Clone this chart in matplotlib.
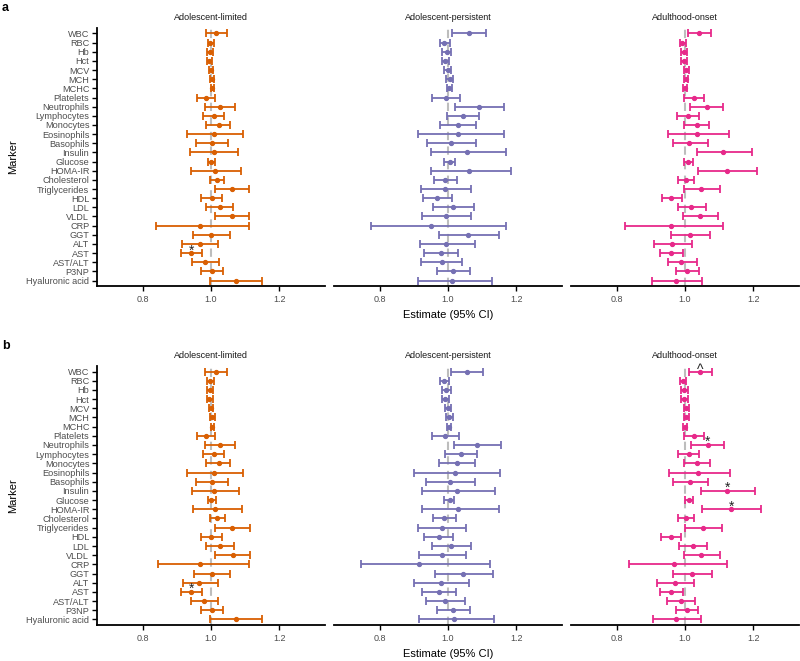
import matplotlib
matplotlib.use('Agg')
import matplotlib.pyplot as plt
import numpy as np

plt.rcParams['font.family'] = ['Liberation Sans', 'DejaVu Sans']

markers = ['WBC', 'RBC', 'Hb', 'Hct', 'MCV', 'MCH', 'MCHC', 'Platelets',
           'Neutrophils', 'Lymphocytes', 'Monocytes', 'Eosinophils', 'Basophils',
           'Insulin', 'Glucose', 'HOMA-IR', 'Cholesterol', 'Triglycerides', 'HDL',
           'LDL', 'VLDL', 'CRP', 'GGT', 'ALT', 'AST', 'AST/ALT', 'P3NP',
           'Hyaluronic acid']
groups = ['Adolescent-limited', 'Adolescent-persistent', 'Adulthood-onset']
colors = ['#D95F02', '#7570B3', '#E7298A']
xticks = [0.8, 1.0, 1.2]
xticklabels = ['0.8', '1.0', '1.2']
panel_letters = ['a', 'b']

# ---- Panel a ----
a_lim_est = [1.015, 0.997, 0.997, 0.995, 0.999, 1.003, 1.004, 0.986, 1.025, 1.008,
             1.023, 1.008, 1.002, 1.008, 1.000, 1.013, 1.018, 1.061, 1.003, 1.025,
             1.061, 0.967, 1.000, 0.967, 0.942, 0.981, 1.004, 1.073]
a_lim_lo = [0.984, 0.990, 0.989, 0.988, 0.994, 0.997, 1.000, 0.959, 0.981, 0.978,
            0.986, 0.929, 0.955, 0.939, 0.992, 0.942, 0.996, 1.012, 0.971, 0.986,
            1.012, 0.839, 0.946, 0.914, 0.911, 0.943, 0.972, 0.998]
a_lim_hi = [1.046, 1.008, 1.006, 1.004, 1.005, 1.010, 1.010, 1.012, 1.069, 1.038,
            1.057, 1.093, 1.050, 1.079, 1.013, 1.089, 1.038, 1.112, 1.033, 1.064,
            1.111, 1.110, 1.055, 1.020, 0.973, 1.022, 1.034, 1.150]

a_per_est = [1.061, 0.989, 0.996, 0.991, 0.999, 1.005, 1.003, 0.995, 1.090, 1.043,
             1.029, 1.029, 1.008, 1.055, 1.006, 1.060, 0.991, 0.992, 0.968, 1.014,
             0.994, 0.951, 1.059, 0.995, 0.979, 0.981, 1.014, 1.013]
a_per_lo = [1.013, 0.978, 0.983, 0.981, 0.989, 0.994, 0.997, 0.954, 1.021, 0.996,
            0.978, 0.911, 0.938, 0.950, 0.988, 0.950, 0.960, 0.922, 0.926, 0.956,
            0.925, 0.774, 0.975, 0.917, 0.931, 0.922, 0.969, 0.911]
a_per_hi = [1.110, 1.005, 1.010, 1.004, 1.008, 1.015, 1.011, 1.036, 1.163, 1.090,
            1.083, 1.163, 1.082, 1.171, 1.021, 1.183, 1.025, 1.066, 1.011, 1.075,
            1.068, 1.170, 1.148, 1.080, 1.029, 1.042, 1.064, 1.128]

a_ons_est = [1.042, 0.992, 0.997, 0.997, 1.003, 1.003, 1.000, 1.025, 1.063, 1.009,
             1.034, 1.035, 1.013, 1.112, 1.010, 1.122, 1.002, 1.048, 0.960, 1.019,
             1.043, 0.958, 1.014, 0.963, 0.960, 0.989, 1.007, 0.975]
a_ons_lo = [1.010, 0.984, 0.987, 0.989, 0.996, 0.996, 0.995, 0.996, 1.016, 0.977,
            0.997, 0.950, 0.964, 1.034, 0.998, 1.038, 0.979, 0.996, 0.932, 0.980,
            0.993, 0.825, 0.958, 0.910, 0.926, 0.949, 0.975, 0.904]
a_ons_hi = [1.077, 1.002, 1.007, 1.007, 1.011, 1.010, 1.005, 1.056, 1.112, 1.040,
            1.071, 1.128, 1.066, 1.197, 1.023, 1.210, 1.025, 1.103, 0.991, 1.061,
            1.096, 1.112, 1.074, 1.021, 0.993, 1.035, 1.040, 1.051]

# ---- Panel b ----
b_lim_est = [1.015, 0.996, 0.996, 0.995, 0.999, 1.003, 1.004, 0.986, 1.026, 1.009,
             1.023, 1.009, 1.002, 1.009, 1.000, 1.013, 1.019, 1.062, 1.001, 1.026,
             1.063, 0.969, 1.002, 0.966, 0.942, 0.980, 1.004, 1.073]
b_lim_lo = [0.983, 0.989, 0.988, 0.988, 0.994, 0.997, 1.000, 0.959, 0.982, 0.978,
            0.986, 0.929, 0.956, 0.943, 0.990, 0.946, 0.996, 1.013, 0.970, 0.986,
            1.013, 0.845, 0.949, 0.917, 0.911, 0.942, 0.972, 0.998]
b_lim_hi = [1.046, 1.008, 1.007, 1.005, 1.005, 1.011, 1.010, 1.013, 1.070, 1.039,
            1.057, 1.095, 1.051, 1.082, 1.014, 1.091, 1.040, 1.115, 1.032, 1.067,
            1.115, 1.112, 1.057, 1.021, 0.974, 1.021, 1.036, 1.150]

b_per_est = [1.055, 0.988, 0.995, 0.990, 0.999, 1.004, 1.003, 0.991, 1.085, 1.038,
             1.025, 1.020, 1.005, 1.025, 1.005, 1.030, 0.989, 0.981, 0.973, 1.009,
             0.983, 0.916, 1.044, 0.980, 0.973, 0.991, 1.016, 1.019]
b_per_lo = [1.008, 0.978, 0.983, 0.981, 0.990, 0.995, 0.997, 0.952, 1.017, 0.992,
            0.975, 0.902, 0.936, 0.925, 0.987, 0.925, 0.955, 0.913, 0.929, 0.952,
            0.916, 0.746, 0.963, 0.902, 0.925, 0.935, 0.968, 0.916]
b_per_hi = [1.103, 1.003, 1.010, 1.003, 1.009, 1.014, 1.010, 1.033, 1.156, 1.085,
            1.078, 1.152, 1.078, 1.136, 1.019, 1.148, 1.022, 1.054, 1.016, 1.068,
            1.054, 1.122, 1.132, 1.061, 1.022, 1.051, 1.063, 1.134]

b_ons_est = [1.045, 0.993, 0.998, 0.998, 1.004, 1.004, 1.000, 1.026, 1.066, 1.011,
             1.036, 1.038, 1.015, 1.123, 1.011, 1.135, 1.002, 1.052, 0.960, 1.022,
             1.048, 0.969, 1.021, 0.970, 0.960, 0.987, 1.006, 0.974]
b_ons_lo = [1.012, 0.984, 0.987, 0.989, 0.997, 0.996, 0.995, 0.996, 1.018, 0.979,
            0.998, 0.952, 0.965, 1.046, 0.999, 1.050, 0.979, 0.999, 0.929, 0.982,
            0.998, 0.835, 0.964, 0.917, 0.928, 0.946, 0.975, 0.905]
b_ons_hi = [1.079, 1.004, 1.008, 1.008, 1.011, 1.011, 1.006, 1.056, 1.115, 1.042,
            1.073, 1.131, 1.067, 1.205, 1.023, 1.222, 1.026, 1.107, 0.989, 1.064,
            1.102, 1.122, 1.080, 1.026, 0.995, 1.030, 1.038, 1.048]

# significance annotations: (row, panel, marker, symbol)
annotations = [(0, 0, 'AST', '*'),
               (1, 0, 'AST', '*'),
               (1, 2, 'WBC', '^'),
               (1, 2, 'Neutrophils', '*'),
               (1, 2, 'Insulin', '*'),
               (1, 2, 'HOMA-IR', '*')]

data = [
    [(a_lim_est, a_lim_lo, a_lim_hi), (a_per_est, a_per_lo, a_per_hi), (a_ons_est, a_ons_lo, a_ons_hi)],
    [(b_lim_est, b_lim_lo, b_lim_hi), (b_per_est, b_per_lo, b_per_hi), (b_ons_est, b_ons_lo, b_ons_hi)],
]

W, H = 800, 661
fig = plt.figure(figsize=(W / 100, H / 100), dpi=100)
fig.patch.set_facecolor('white')

lefts = [97, 334, 571]
pw = 228
rows = [(28, 286), (366, 625)]
tick_col = '#4D4D4D'
n = len(markers)
ypos = np.arange(n)[::-1]

for r, (top, bot) in enumerate(rows):
    axes_row = []
    for p in range(3):
        ax = fig.add_axes([lefts[p] / W, 1 - bot / H, pw / W, (bot - top) / H])
        axes_row.append(ax)
        est, lo, hi = (np.array(v) for v in data[r][p])
        ax.axvline(1.0, color='#BDBDBD', ls=(0, (4, 3)), lw=1.5, zorder=1)
        ax.errorbar(est, ypos, xerr=[est - lo, hi - est], fmt='o', color=colors[p],
                    ms=2.8, capsize=3.2, elinewidth=1.3, capthick=1.3, zorder=3)
        ax.set_xlim(2 / 3, 4 / 3)
        ax.set_ylim(-0.6, n - 1 + 0.6)
        ax.set_xticks(xticks)
        ax.set_xticklabels(xticklabels)
        ax.tick_params(axis='x', length=3.5, width=1.0, colors='black',
                       labelcolor=tick_col, labelsize=6.5, pad=3)
        for s in ['top', 'right']:
            ax.spines[s].set_visible(False)
        ax.spines['bottom'].set_linewidth(1.3)
        if p == 0:
            ax.set_yticks(ypos)
            ax.set_yticklabels(markers)
            ax.tick_params(axis='y', length=3.5, width=1.0, colors='black',
                           labelcolor=tick_col, labelsize=6.6, pad=2)
            ax.spines['left'].set_linewidth(1.3)
        else:
            ax.set_yticks([])
            ax.spines['left'].set_visible(False)
        ax.set_title(groups[p], fontsize=6.5, pad=6, color='#1A1A1A')
        ax.set_facecolor('none')

    for (rr, pp, m, sym) in annotations:
        if rr != r:
            continue
        ax = axes_row[pp]
        i = markers.index(m)
        xv = data[r][pp][0][i]
        off = 0.30 if sym == '*' else 0.12
        ax.text(xv, ypos[i] + off, sym, ha='center', va='center', fontsize=10,
                color='#222222', zorder=4)

    fig.text(448 / W, 1 - (top + (bot - top) + 29) / H, 'Estimate (95% CI)',
             ha='center', va='center', fontsize=8)
    fig.text(13 / W, 1 - ((top + bot) / 2) / H, 'Marker', rotation=90,
             ha='center', va='center', fontsize=8)
    fig.text(2 / W, 1 - (top - 20) / H, panel_letters[r], ha='left', va='center',
             fontsize=9, fontweight='bold')

fig.savefig('out.png', dpi=100)
